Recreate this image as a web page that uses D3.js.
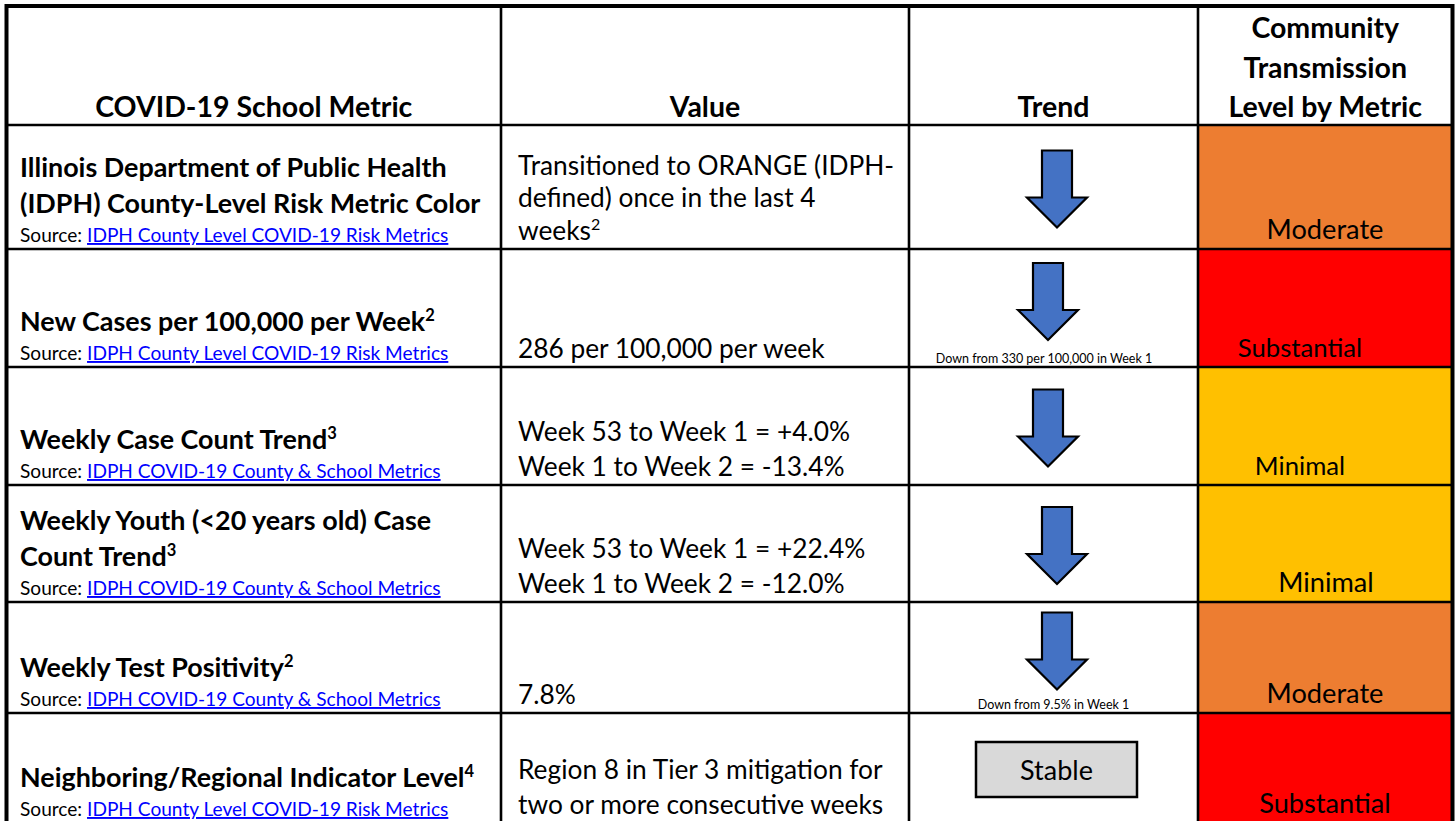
<!DOCTYPE html>
<html>
<head>
<meta charset="utf-8">
<script src="https://cdn.jsdelivr.net/npm/d3@7"></script>
<style>
  html, body { margin: 0; padding: 0; background: #fff; }
  svg { display: block; }
  text { font-family: Lato, "Noto Sans", sans-serif; fill: #000; }
</style>
</head>
<body>
<svg id="chart" width="1456" height="821"></svg>
<script>
// ---------------- DATA ----------------
const headers = [["COVID-19 School Metric"], ["Value"], ["Trend"], ["Community", "Transmission", "Level by Metric"]];
const metricNames = [
  ["Illinois Department of Public Health", "(IDPH) County-Level Risk Metric Color"],
  ["New Cases per 100,000 per Week"],
  ["Weekly Case Count Trend"],
  ["Weekly Youth (<20 years old) Case", "Count Trend"],
  ["Weekly Test Positivity"],
  ["Neighboring/Regional Indicator Level"]
];
const metricNotes = ["", "2", "3", "3", "2", "4"];
const sourceLinks = [
  "IDPH County Level COVID-19 Risk Metrics",
  "IDPH County Level COVID-19 Risk Metrics",
  "IDPH COVID-19 County & School Metrics",
  "IDPH COVID-19 County & School Metrics",
  "IDPH COVID-19 County & School Metrics",
  "IDPH County Level COVID-19 Risk Metrics"
];
const valueLines = [
  ["Transitioned to ORANGE (IDPH-", "defined) once in the last 4", "weeks"],
  ["286 per 100,000 per week"],
  ["Week 53 to Week 1 = +4.0%", "Week 1 to Week 2 = -13.4%"],
  ["Week 53 to Week 1 = +22.4%", "Week 1 to Week 2 = -12.0%"],
  ["7.8%"],
  ["Region 8 in Tier 3 mitigation for", "two or more consecutive weeks"]
];
const valueNotes = ["2", "", "", "", "", ""];
const trends = ["down", "down", "down", "down", "down", "stable"];
const trendNotes = ["", "Down from 330 per 100,000 in Week 1", "", "", "Down from 9.5% in Week 1", ""];
const levels = ["Moderate", "Substantial", "Minimal", "Minimal", "Moderate", "Substantial"];
const levelNames = ["Minimal", "Moderate", "Substantial"];
const levelColors = ["#FFC000", "#ED7D31", "#FF0000"];

// ---------------- LAYOUT ----------------
const W = 1456, H = 821;
const rowEdges = [6, 125, 249, 367, 485, 602, 713, 823];
const colEdges = [6.5, 501, 909, 1198, 1452.5];
const headFont = 28.5, boldFont = 26.9, bodyFont = 26.3, sourceFont = 19.1, noteFont = 12.5;
const levelX = [1325, 1300, 1300, 1326, 1325, 1325];
const levelFont = [27.2, 25.7, 25.7, 27.2, 27.2, 27.2];
const arrowDx = [3.5, -5.5, -5.5, 3.5, 3.5, 0];
const noteDx = [0, -9.5, 0, 0, 0, 0];

const color = d3.scaleOrdinal().domain(levelNames).range(levelColors);
const x = d3.scaleOrdinal().domain(d3.range(4)).range(colEdges.slice(0, 4));
const y = d3.scaleOrdinal().domain(d3.range(8)).range(rowEdges);

const svg = d3.select("#chart");
svg.append("rect").attr("width", W).attr("height", H).attr("fill", "#fff");

const rows = d3.range(6).map(i => ({
  i, top: y(i + 1), bottom: y(i + 2),
  metric: metricNames[i], mNote: metricNotes[i], source: sourceLinks[i],
  value: valueLines[i], vNote: valueNotes[i], trend: trends[i], tNote: trendNotes[i], level: levels[i]
}));

// level cell fills
svg.selectAll("rect.level").data(rows).join("rect")
  .attr("class", "level")
  .attr("x", x(3)).attr("y", d => d.top)
  .attr("width", colEdges[4] - x(3)).attr("height", d => d.bottom - d.top)
  .attr("fill", d => color(d.level));

// headers
const colCenter = c => (colEdges[c] + colEdges[c + 1]) / 2;
headers.forEach((lines, c) => {
  lines.forEach((ln, k) => {
    svg.append("text")
      .attr("x", colCenter(c))
      .attr("y", 117 - (lines.length - 1 - k) * 39.3)
      .attr("text-anchor", "middle")
      .attr("font-weight", "bold")
      .attr("font-size", headFont)
      .text(ln);
  });
});

// metric column
rows.forEach(d => {
  const g = svg.append("g");
  const srcY = d.bottom - 7;
  const lastY = srcY - 29;
  d.metric.forEach((ln, k) => {
    const t = g.append("text")
      .attr("x", 20)
      .attr("y", lastY - (d.metric.length - 1 - k) * 36)
      .attr("font-weight", "bold")
      .attr("font-size", boldFont)
      .text(ln);
    if (k === d.metric.length - 1 && d.mNote) {
      t.append("tspan").attr("dy", -10).attr("font-size", 16.5).text(d.mNote);
    }
  });
  const s = g.append("text").attr("x", 20).attr("y", srcY).attr("font-size", sourceFont);
  s.append("tspan").text("Source: ");
  s.append("tspan").style("fill", "#0000FF").attr("text-decoration", "underline").text(d.source);
});

// value column
rows.forEach(d => {
  const lastY = d.bottom - 9.5;
  const lh = d.i === 0 ? 32.5 : 34.5;
  d.value.forEach((ln, k) => {
    const t = svg.append("text")
      .attr("x", 518)
      .attr("y", lastY - (d.value.length - 1 - k) * lh)
      .attr("font-size", bodyFont)
      .text(ln);
    if (k === d.value.length - 1 && d.vNote) {
      t.append("tspan").attr("dy", -10).attr("font-size", 16).text(d.vNote);
    }
  });
});

// trend column
const arrowPath = (cx, top) => {
  const sw = 15, hw = 30, sh = 47, hh = 30;
  return d3.line()([
    [cx - sw, top], [cx + sw, top], [cx + sw, top + sh], [cx + hw, top + sh],
    [cx, top + sh + hh], [cx - hw, top + sh], [cx - sw, top + sh]
  ]) + "Z";
};
rows.forEach(d => {
  const cx = colCenter(2) + arrowDx[d.i];
  if (d.trend === "down") {
    const areaBottom = d.bottom - (d.tNote ? 17 : 0);
    const mid = (d.top + areaBottom) / 2 + 2;
    svg.append("path")
      .attr("d", arrowPath(cx, mid - 38.5))
      .attr("fill", "#4472C4").attr("stroke", "#000").attr("stroke-width", 2.2)
      .attr("stroke-linejoin", "miter");
    if (d.tNote) {
      svg.append("text")
        .attr("x", colCenter(2) + noteDx[d.i]).attr("y", d.bottom - 4.5)
        .attr("text-anchor", "middle").attr("font-size", noteFont)
        .text(d.tNote);
    }
  } else {
    const bw = 161, bh = 55;
    const bx = colCenter(2) + 3 - bw / 2;
    const by = (d.top + d.bottom) / 2 + 1.5 - bh / 2;
    svg.append("rect").attr("x", bx).attr("y", by).attr("width", bw).attr("height", bh)
      .attr("fill", "#D9D9D9").attr("stroke", "#000").attr("stroke-width", 2.5);
    svg.append("text").attr("x", bx + bw / 2).attr("y", by + 38)
      .attr("text-anchor", "middle").attr("font-size", 27).text("Stable");
  }
});

// level text
rows.forEach(d => {
  svg.append("text")
    .attr("x", levelX[d.i]).attr("y", d.bottom - 10)
    .attr("text-anchor", "middle").attr("font-size", levelFont[d.i])
    .text(d.level);
});

// grid lines
const inner = svg.append("g").attr("stroke", "#000").attr("stroke-width", 2.6);
inner.selectAll("line.h").data(rowEdges.slice(1, 7)).join("line")
  .attr("x1", colEdges[0]).attr("x2", colEdges[4]).attr("y1", d => d).attr("y2", d => d);
inner.selectAll("line.v").data(colEdges.slice(1, 4)).join("line")
  .attr("x1", d => d).attr("x2", d => d).attr("y1", rowEdges[0]).attr("y2", rowEdges[7]);
svg.append("rect")
  .attr("x", colEdges[0]).attr("y", rowEdges[0])
  .attr("width", colEdges[4] - colEdges[0]).attr("height", rowEdges[7] - rowEdges[0])
  .attr("fill", "none").attr("stroke", "#000").attr("stroke-width", 4);
</script>
</body>
</html>
